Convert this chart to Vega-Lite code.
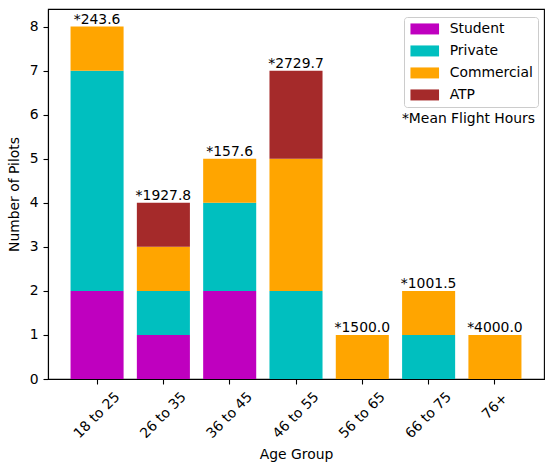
{
  "$schema": "https://vega.github.io/schema/vega-lite/v6.json",
  "width": 496,
  "height": 370,
  "autosize": {"type": "none"},
  "padding": {"left": 48, "top": 9, "right": 10, "bottom": 90},
  "background": "white",
  "config": {
    "font": "DejaVu Sans",
    "view": {"stroke": "black", "strokeWidth": 1.1},
    "axis": {
      "grid": false,
      "domainColor": "black",
      "domainWidth": 1.1,
      "tickColor": "black",
      "tickWidth": 1.1,
      "tickSize": 5,
      "labelColor": "black",
      "titleColor": "black",
      "labelFont": "DejaVu Sans",
      "titleFont": "DejaVu Sans",
      "labelFontSize": 13.9,
      "titleFontSize": 13.9,
      "titleFontWeight": "normal"
    }
  },
  "title": {
    "text": "*Mean Flight Hours",
    "orient": "top",
    "anchor": "end",
    "frame": "group",
    "offset": 0,
    "dx": -9,
    "dy": 128,
    "baseline": "alphabetic",
    "font": "DejaVu Sans",
    "fontSize": 13.9,
    "fontWeight": "normal",
    "color": "black"
  },
  "datasets": {
    "pilots": [
      {"age": "18 to 25", "license": "Student", "count": 2},
      {"age": "18 to 25", "license": "Private", "count": 5},
      {"age": "18 to 25", "license": "Commercial", "count": 1},
      {"age": "26 to 35", "license": "Student", "count": 1},
      {"age": "26 to 35", "license": "Private", "count": 1},
      {"age": "26 to 35", "license": "Commercial", "count": 1},
      {"age": "26 to 35", "license": "ATP", "count": 1},
      {"age": "36 to 45", "license": "Student", "count": 2},
      {"age": "36 to 45", "license": "Private", "count": 2},
      {"age": "36 to 45", "license": "Commercial", "count": 1},
      {"age": "46 to 55", "license": "Private", "count": 2},
      {"age": "46 to 55", "license": "Commercial", "count": 3},
      {"age": "46 to 55", "license": "ATP", "count": 2},
      {"age": "56 to 65", "license": "Commercial", "count": 1},
      {"age": "66 to 75", "license": "Private", "count": 1},
      {"age": "66 to 75", "license": "Commercial", "count": 1},
      {"age": "76+", "license": "Commercial", "count": 1}
    ],
    "hours": [
      {"age": "18 to 25", "total": 8, "label": "*243.6"},
      {"age": "26 to 35", "total": 4, "label": "*1927.8"},
      {"age": "36 to 45", "total": 5, "label": "*157.6"},
      {"age": "46 to 55", "total": 7, "label": "*2729.7"},
      {"age": "56 to 65", "total": 1, "label": "*1500.0"},
      {"age": "66 to 75", "total": 2, "label": "*1001.5"},
      {"age": "76+", "total": 1, "label": "*4000.0"}
    ]
  },
  "layer": [
    {
      "data": {"name": "pilots"},
      "mark": {"type": "bar", "strokeWidth": 0},
      "encoding": {
        "x": {
          "field": "age",
          "type": "nominal",
          "sort": ["18 to 25", "26 to 35", "36 to 45", "46 to 55", "56 to 65", "66 to 75", "76+"],
          "scale": {"paddingInner": 0.2, "paddingOuter": 0.34},
          "axis": {
            "title": "Age Group",
            "titlePadding": 7,
            "labelAngle": -45,
            "labelAlign": "center",
            "labelBaseline": "middle",
            "labelPadding": {"condition": {"test": "datum.value === '76+'", "value": 22}, "value": 31}
          }
        },
        "y": {
          "field": "count",
          "type": "quantitative",
          "stack": "zero",
          "scale": {"domain": [0, 8.4], "nice": false},
          "axis": {
            "title": "Number of Pilots",
            "titlePadding": 8,
            "labelPadding": 5,
            "values": [0, 1, 2, 3, 4, 5, 6, 7, 8]
          }
        },
        "color": {
          "field": "license",
          "type": "nominal",
          "sort": ["Student", "Private", "Commercial", "ATP"],
          "scale": {
            "domain": ["Student", "Private", "Commercial", "ATP"],
            "range": ["#bf00bf", "#00bfbf", "#ffa500", "#a52a2a"]
          },
          "legend": {
            "orient": "none",
            "legendX": 356,
            "legendY": 8,
            "title": null,
            "symbolType": "M-2.6,-1H2.6V1H-2.6Z",
            "symbolSize": 121,
            "symbolOffset": 8.8,
            "symbolStrokeWidth": 0,
            "symbolOpacity": 1,
            "labelFont": "DejaVu Sans",
            "labelFontSize": 13.9,
            "labelColor": "black",
            "labelOffset": 18,
            "padding": 5,
            "rowPadding": 7,
            "fillColor": "rgba(255,255,255,0.8)",
            "strokeColor": "#cccccc",
            "cornerRadius": 3
          }
        }
      }
    },
    {
      "data": {"name": "hours"},
      "mark": {"type": "text", "baseline": "bottom", "align": "center", "font": "DejaVu Sans", "fontSize": 13.9, "color": "black"},
      "encoding": {
        "x": {"field": "age", "type": "nominal", "sort": ["18 to 25", "26 to 35", "36 to 45", "46 to 55", "56 to 65", "66 to 75", "76+"]},
        "y": {"field": "total", "type": "quantitative"},
        "text": {"field": "label", "type": "nominal"}
      }
    }
  ]
}
